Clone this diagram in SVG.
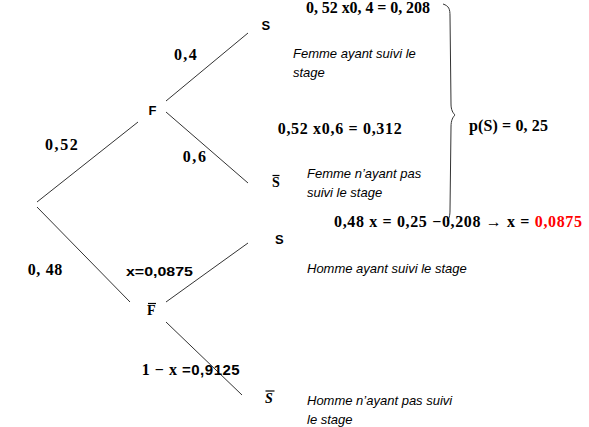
<svg xmlns="http://www.w3.org/2000/svg" width="589" height="427" viewBox="0 0 589 427">
<style>
.e{stroke:#333;stroke-width:1;fill:none}
.m{font-family:"Liberation Serif",serif;font-weight:bold;font-size:16px;fill:#000}
.b{font-family:"Liberation Serif",serif;font-weight:bold;font-size:14px;fill:#000}
.bar{stroke:#000;stroke-width:1.2}
.n{font-family:"Liberation Sans",sans-serif;font-weight:bold;font-size:13px;fill:#000}
.i{font-family:"Liberation Sans",sans-serif;font-style:italic;font-size:13px;fill:#000}
.r{fill:#ff0000}
</style>
<rect width="589" height="427" fill="#fff"/>
<g id="connectors">
<line class="e" x1="37" y1="202" x2="138" y2="122"/>
<line class="e" x1="37" y1="207" x2="130" y2="302"/>
<line class="e" x1="166" y1="101" x2="248" y2="33"/>
<line class="e" x1="166" y1="112" x2="248" y2="183"/>
<line class="e" x1="166" y1="302" x2="248" y2="243"/>
<line class="e" x1="166" y1="322" x2="242" y2="395"/>
<path class="e" d="M443,4 C449,6 450,9 450,16 L451,104 C451,110 453,113 455,115 C453,117 451,120 451,127 L450,210 C450,216 449,219 447,221"/>
</g>
<g id="F"><text class="n" x="148.5" y="115">F</text></g>
<g id="Fbar"><text class="b" x="147" y="314.5" font-size="14.5px">F</text><line class="bar" x1="148" y1="303.5" x2="156" y2="303.5"/></g>
<g id="S1"><text class="n" x="261.5" y="29.5">S</text></g>
<g id="Sbar1"><text class="b" x="272" y="187">S</text><line class="bar" x1="272.5" y1="175.5" x2="279.5" y2="175.5"/></g>
<g id="S2"><text class="n" x="275" y="243.5">S</text></g>
<g id="Sbar2"><text class="b" font-style="italic" x="265" y="402.5">S</text><line class="bar" x1="265.5" y1="391" x2="274.5" y2="391"/></g>
<g id="labels">
<text class="m" x="174" y="60" textLength="22.7" lengthAdjust="spacing">0,4</text>
<text class="m" x="45" y="150" textLength="32.7" lengthAdjust="spacing">0,52</text>
<text class="m" x="182.7" y="162" textLength="23.3" lengthAdjust="spacing">0,6</text>
<text class="m" x="27.7" y="275" textLength="34.6" lengthAdjust="spacing">0, 48</text>
<text class="n" x="126" y="276" font-size="15px" textLength="67" lengthAdjust="spacingAndGlyphs">x=0,0875</text>
<text class="m" x="141.7" y="375" textLength="98" lengthAdjust="spacing">1 − x <tspan font-family="Liberation Sans, sans-serif" font-size="15px">=0,9125</tspan></text>
<text class="m" x="306" y="13" textLength="124" lengthAdjust="spacing">0, 52 x0, 4 = 0, 208</text>
<text class="m" x="277.7" y="134" textLength="124" lengthAdjust="spacing">0,52 x0,6 = 0,312</text>
<text class="m" x="469" y="131" textLength="79" lengthAdjust="spacing">p(S) = 0, 25</text>
<text class="m" x="334" y="227" textLength="248" lengthAdjust="spacing">0,48 x = 0,25 −0,208 → x = <tspan class="r">0,0875</tspan></text>
<text class="i" x="293" y="58">Femme ayant suivi le</text>
<text class="i" x="293" y="77">stage</text>
<text class="i" x="307" y="178">Femme n’ayant pas</text>
<text class="i" x="307" y="197">suivi  le stage</text>
<text class="i" x="307" y="273">Homme ayant suivi le stage</text>
<text class="i" x="307" y="405">Homme n’ayant pas suivi</text>
<text class="i" x="307" y="424">le stage</text>
</g>
</svg>
